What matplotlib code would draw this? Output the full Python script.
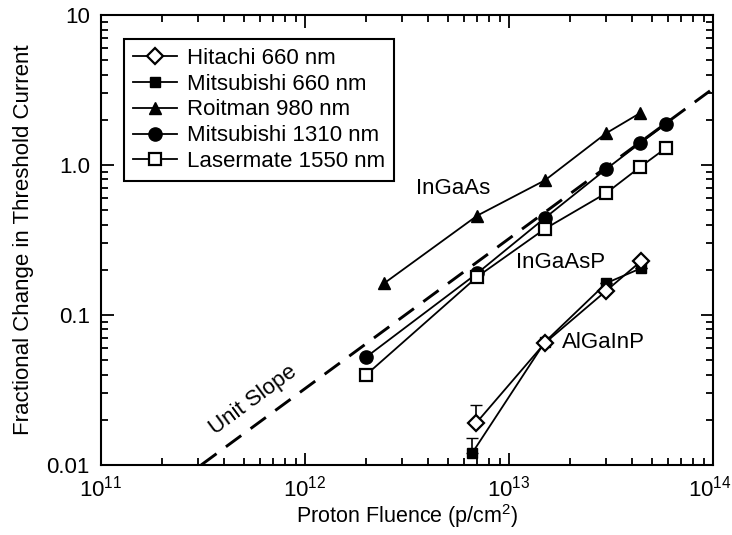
import matplotlib
matplotlib.use("Agg")
import matplotlib.pyplot as plt
import matplotlib.transforms as mtransforms
from matplotlib.ticker import FixedLocator, LogLocator, NullFormatter

plt.rcParams['font.family'] = ['Liberation Sans', 'DejaVu Sans']
plt.rcParams['mathtext.fontset'] = 'custom'
plt.rcParams['mathtext.rm'] = 'Liberation Sans'

# data
hitachi_x = [6.9e12, 1.5e13, 3.0e13, 4.45e13]
hitachi_y = [0.019, 0.065, 0.145, 0.229]
hitachi_err = [0.0061, 0, 0, 0]

mits660_x = [6.6e12, 1.5e13, 3.0e13, 4.45e13]
mits660_y = [0.012, 0.066, 0.163, 0.205]
mits660_err = [0.0032, 0, 0, 0]

roitman_x = [2.45e12, 7.0e12, 1.5e13, 3.0e13, 4.4e13]
roitman_y = [0.163, 0.46, 0.79, 1.63, 2.22]

mits1310_x = [2.0e12, 7.0e12, 1.5e13, 3.0e13, 4.4e13, 5.9e13]
mits1310_y = [0.0525, 0.19, 0.443, 0.94, 1.40, 1.88]

laser_x = [2.0e12, 7.0e12, 1.5e13, 3.0e13, 4.4e13, 5.9e13]
laser_y = [0.040, 0.18, 0.375, 0.65, 0.97, 1.30]

# unit slope reference line end points
slope_x = [3.1e11, 1e14]
slope_k = 3.1e13

fig = plt.figure(figsize=(7.32, 5.35), dpi=100)
ax = fig.add_axes([0.138, 0.131, 0.836, 0.841])

ax.plot(slope_x, [v / slope_k for v in slope_x], color='black', lw=2.1,
        dashes=(6.5, 4))

lw = 1.3
# upper error bars only (lower part is hidden behind the marker in the original)
ax.errorbar(hitachi_x, hitachi_y, yerr=[[0] * 4, hitachi_err], fmt='none',
            ecolor='black', capsize=4, elinewidth=1.2, zorder=2)
ax.errorbar(mits660_x, mits660_y, yerr=[[0] * 4, mits660_err], fmt='none',
            ecolor='black', capsize=4, elinewidth=1.2, zorder=2)

ax.plot(hitachi_x, hitachi_y, color='black', lw=lw, marker='D', ms=8,
        mfc='white', mec='black', mew=1.6, label='Hitachi 660 nm', zorder=4)
ax.plot(mits660_x, mits660_y, color='black', lw=lw, marker='s', ms=6.5,
        mfc='black', mec='black', label='Mitsubishi 660 nm', zorder=3)
ax.plot(roitman_x, roitman_y, color='black', lw=lw, marker='^', ms=9,
        label='Roitman 980 nm')
ax.plot(mits1310_x, mits1310_y, color='black', lw=lw, marker='o', ms=9.5,
        label='Mitsubishi 1310 nm')
ax.plot(laser_x, laser_y, color='black', lw=lw, marker='s', ms=8.5,
        mfc='white', mec='black', mew=1.6, label='Lasermate 1550 nm')

ax.set_xscale('log')
ax.set_yscale('log')
ax.set_xlim(1e11, 1e14)
ax.set_ylim(0.01, 10)

ax.xaxis.set_major_locator(FixedLocator([1e11, 1e12, 1e13, 1e14]))
ax.set_xticklabels([r'$\mathregular{10^{11}}$', r'$\mathregular{10^{12}}$',
                    r'$\mathregular{10^{13}}$', r'$\mathregular{10^{14}}$'])
ax.yaxis.set_major_locator(FixedLocator([0.01, 0.1, 1.0, 10]))
ax.set_yticklabels(['0.01', '0.1', '1.0', '10'])
for a in (ax.xaxis, ax.yaxis):
    a.set_minor_locator(LogLocator(base=10, subs=range(2, 10)))
    a.set_minor_formatter(NullFormatter())

ax.tick_params(which='both', direction='in', top=True, right=True,
               labelsize=16, width=1.3, pad=8)
ax.tick_params(which='major', length=9)
ax.tick_params(which='minor', length=5)
for s in ax.spines.values():
    s.set_linewidth(1.5)

# nudge the last x label so it stays inside the picture
last = ax.get_xticklabels()[-1]
last.set_transform(last.get_transform() +
                   mtransforms.ScaledTranslation(-3 / 100, 0, fig.dpi_scale_trans))

ax.set_xlabel('Proton Fluence (p/cm$^2$)', fontsize=15.5, labelpad=0)
ax.set_ylabel('Fractional Change in Threshold Current', fontsize=16, labelpad=9)

ax.text(5.3e12, 0.70, 'InGaAs', fontsize=16, ha='center', va='center')
ax.text(1.8e13, 0.222, 'InGaAsP', fontsize=16, ha='center', va='center')
ax.text(2.92e13, 0.066, 'AlGaInP', fontsize=16, ha='center', va='center')
ax.text(5.6e11, 0.0271, 'Unit Slope', fontsize=16, ha='center', va='center',
        rotation=36.3)

leg = ax.legend(loc='upper left', bbox_to_anchor=(0.037, 0.947), fontsize=16,
                frameon=True, fancybox=False, framealpha=1, edgecolor='black',
                handlelength=2.0, handletextpad=0.45, labelspacing=0.22,
                borderpad=0.4, borderaxespad=0)
leg.get_frame().set_linewidth(1.5)

fig.savefig('out.png', dpi=100)
